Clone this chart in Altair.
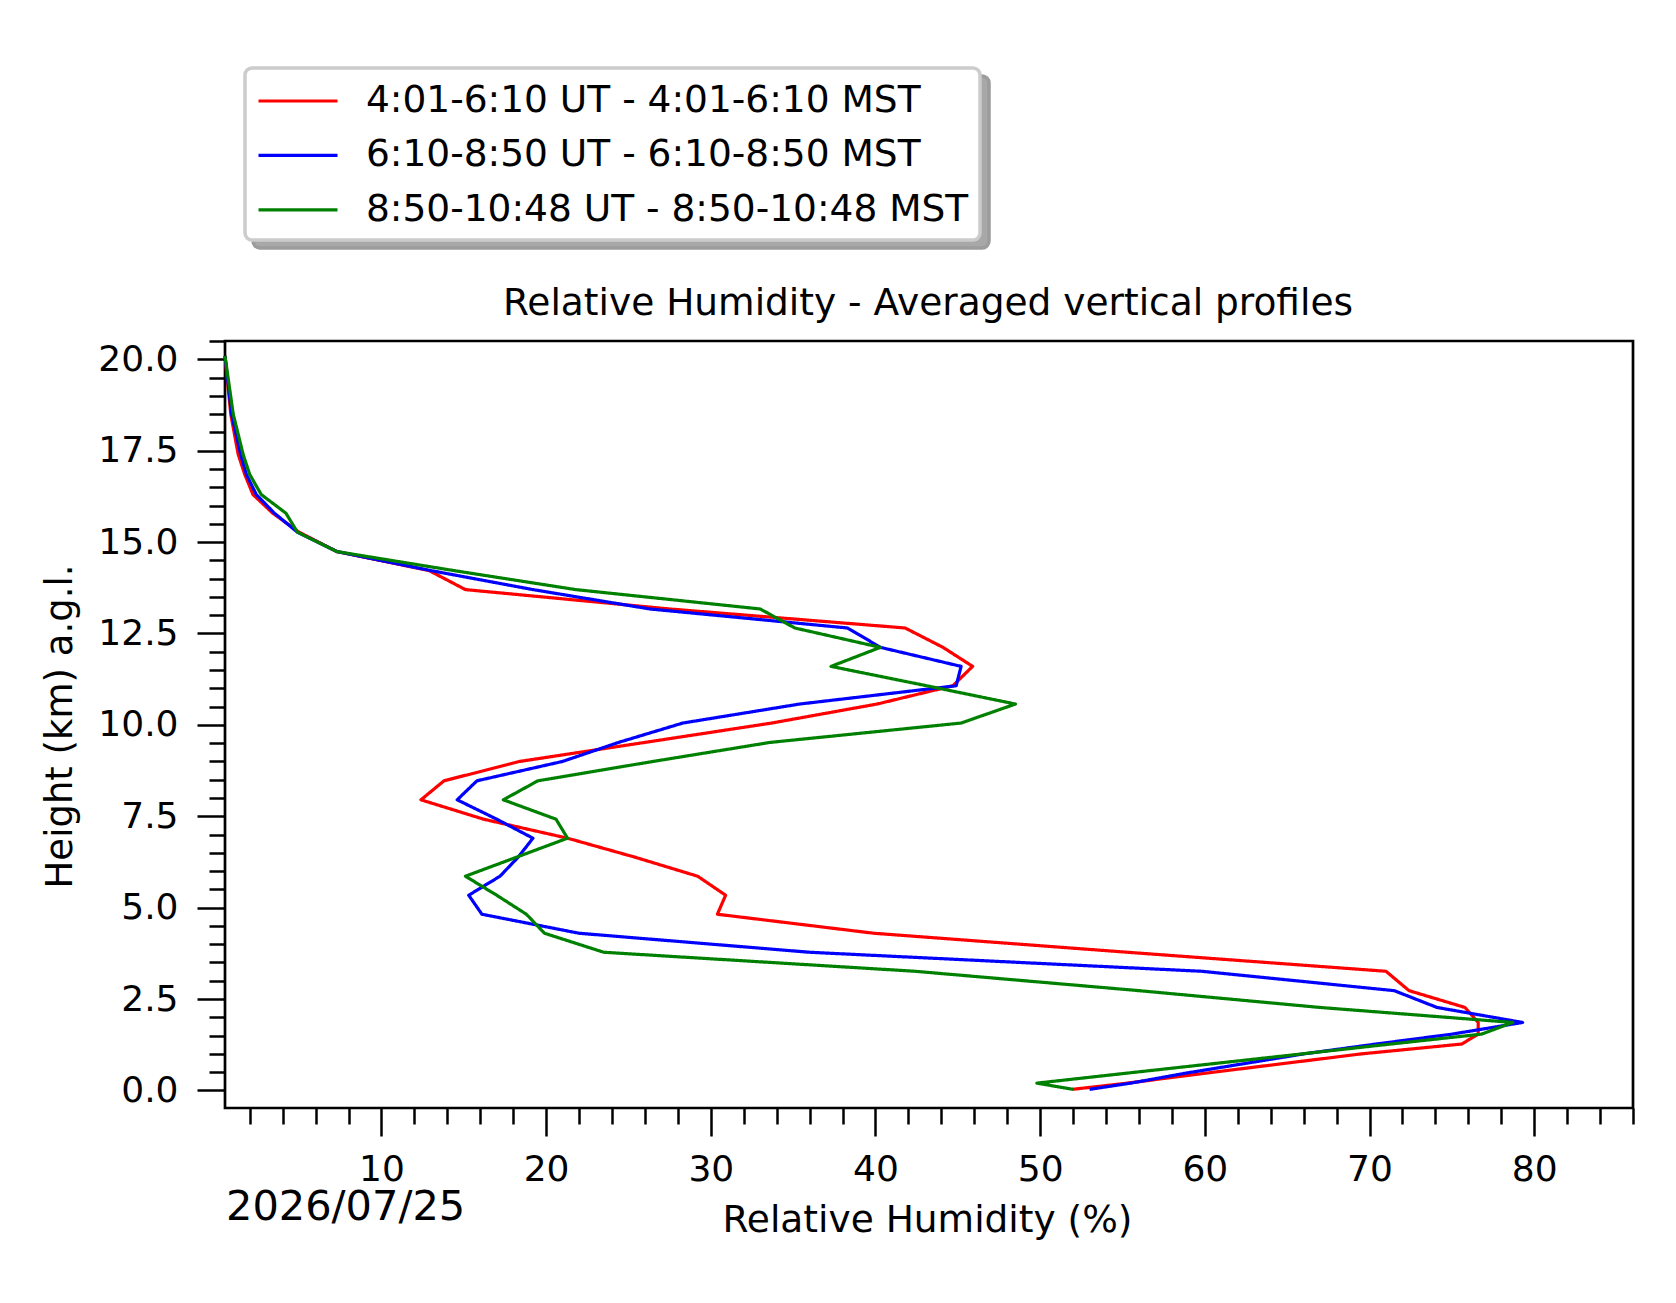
import altair as alt
import pandas as pd

# ---------------- data ----------------
heights = [0.03, 0.2, 0.47, 1.0, 1.27, 1.54, 1.86, 2.27, 2.73, 3.26,
           3.78, 4.3, 4.82, 5.34, 5.86, 6.38, 6.9, 7.42, 7.95, 8.47,
           9.0, 9.52, 10.05, 10.57, 11.07, 11.6, 12.12, 12.65, 13.17, 13.7,
           14.22, 14.74, 15.27, 15.79, 16.3, 16.85, 17.4, 18.5, 20.09]

rh_red = [51.95, 55.3, 60.0, 69.5, 75.6, 76.6, 76.6, 75.8, 72.4, 71.0,
          55.3, 39.9, 30.4, 30.9, 29.2, 25.4, 21.3, 16.2, 12.4, 13.8,
          18.4, 26.0, 33.7, 40.1, 44.7, 45.9, 44.1, 41.8, 27.5, 15.1,
          12.9, 7.3, 5.0, 3.4, 2.2, 1.7, 1.3, 0.85, 0.5]

rh_blue = [53.0, 55.5, 58.8, 66.0, 70.4, 75.0, 79.3, 74.1, 71.5, 59.8,
           36.0, 22.0, 16.1, 15.3, 17.2, 18.3, 19.2, 17.0, 14.6, 15.8,
           21.0, 24.4, 28.3, 35.4, 44.9, 45.2, 40.3, 38.3, 26.3, 19.2,
           13.0, 7.3, 4.9, 3.5, 2.4, 1.8, 1.45, 0.9, 0.5]

rh_green = [52.0, 49.8, 55.2, 65.9, 71.3, 76.8, 78.7, 67.0, 56.0, 42.4,
            23.5, 19.9, 18.8, 17.0, 15.1, 18.2, 21.3, 20.6, 17.4, 19.5,
            26.5, 33.6, 45.2, 48.5, 43.1, 37.3, 40.3, 35.1, 33.0, 21.8,
            14.4, 7.3, 4.9, 4.2, 2.7, 2.0, 1.6, 1.0, 0.5]

series_labels = ["4:01-6:10 UT - 4:01-6:10 MST",
                 "6:10-8:50 UT - 6:10-8:50 MST",
                 "8:50-10:48 UT - 8:50-10:48 MST"]
series_colors = ["#ff0000", "#0000ff", "#008000"]

x_tick_values = [2, 4, 6, 8, 10, 12, 14, 16, 18, 20, 22, 24, 26, 28, 30,
                 32, 34, 36, 38, 40, 42, 44, 46, 48, 50, 52, 54, 56, 58,
                 60, 62, 64, 66, 68, 70, 72, 74, 76, 78, 80, 82, 84, 86]
y_tick_values = [0.0, 0.5, 1.0, 1.5, 2.0, 2.5, 3.0, 3.5, 4.0, 4.5, 5.0,
                 5.5, 6.0, 6.5, 7.0, 7.5, 8.0, 8.5, 9.0, 9.5, 10.0, 10.5,
                 11.0, 11.5, 12.0, 12.5, 13.0, 13.5, 14.0, 14.5, 15.0,
                 15.5, 16.0, 16.5, 17.0, 17.5, 18.0, 18.5, 19.0, 19.5,
                 20.0, 20.5]

date_label = ["2026/07/25"]
title_label = ["Relative Humidity - Averaged vertical profiles"]
x_title = "Relative Humidity (%)"
y_title = "Height (km) a.g.l."

# ---------------- table ----------------
rows = []
for label, values in zip(series_labels, [rh_red, rh_blue, rh_green]):
    for i, (h, v) in enumerate(zip(heights, values)):
        rows.append({"series": label, "shadow": label, "idx": i,
                     "height": h, "rh": v})
df = pd.DataFrame(rows)
date_df = pd.DataFrame({"date": date_label})
title_df = pd.DataFrame({"title": title_label})

FONT = "DejaVu Sans"
PLOT_W, PLOT_H = 1408, 767

x_axis = alt.Axis(
    values=x_tick_values,
    tickSize={"condition": {"test": "datum.value % 10 !== 0", "value": 16}, "value": 28},
    labelExpr="datum.value % 10 === 0 ? datum.label : ''",
    labelPadding=16, labelFlush=False, labelOverlap=False,
    labelFont=FONT, labelFontSize=36, labelColor="black",
    grid=False, domain=False, tickColor="black", tickWidth=2.5,
    title=x_title, titleFont=FONT, titleFontSize=37.5, titleFontWeight="normal",
    titleColor="black", titleX=702, titleY=123.5,
    titleBaseline="alphabetic", titleAlign="center",
)
y_axis = alt.Axis(
    values=y_tick_values,
    tickSize={"condition": {"test": "datum.value % 2.5 !== 0", "value": 16}, "value": 28},
    labelExpr="datum.value % 2.5 === 0 ? format(datum.value, '.1f') : ''",
    labelPadding=19, labelFlush=False, labelOverlap=False,
    labelFont=FONT, labelFontSize=36, labelColor="black",
    grid=False, domain=False, tickColor="black", tickWidth=2.5,
    title=y_title, titleFont=FONT, titleFontSize=37, titleFontWeight="normal",
    titleColor="black", titleX=-154, titleY=385,
    titleBaseline="alphabetic", titleAlign="center", titleAngle=270,
)

legend_common = dict(
    orient="none", title=None, labelFontSize=37.5, labelFont=FONT,
    labelLimit=0, padding=11, rowPadding=13.4,
    symbolType="M-1.975,0L1.975,0", symbolSize=1600, symbolStrokeWidth=3.2,
    symbolOffset=20, cornerRadius=7,
)
main_legend = alt.Legend(
    legendX=20, legendY=-273, fillColor="white", strokeColor="#cccccc",
    labelColor="black", labelOffset=46, zindex=1, **legend_common,
)
# drop shadow of the legend box (same size, no visible content)
shadow_legend = alt.Legend(
    legendX=28, legendY=-265, fillColor="#a8a8a8", strokeColor="#9c9c9c",
    labelExpr="''", labelOffset=650, symbolOpacity=0, zindex=0,
    **legend_common,
)

lines = alt.Chart(df).mark_line(strokeWidth=3.2, strokeJoin="round").encode(
    x=alt.X("rh:Q", scale=alt.Scale(domain=[0.5, 86], nice=False, zero=False), axis=x_axis),
    y=alt.Y("height:Q", scale=alt.Scale(domain=[-0.48, 20.5], nice=False, zero=False), axis=y_axis),
    color=alt.Color("series:N", scale=alt.Scale(domain=series_labels, range=series_colors),
                    legend=main_legend),
    strokeDash=alt.StrokeDash("shadow:N",
                              scale=alt.Scale(domain=series_labels[::-1],
                                              range=[[1, 0], [1, 0], [1, 0]]),
                              legend=shadow_legend),
    order=alt.Order("idx:Q"),
)

date_text = alt.Chart(date_df).mark_text(
    align="left", baseline="alphabetic", fontSize=41.5, font=FONT, color="black"
).encode(x=alt.value(1), y=alt.value(879), text="date:N")

title_text = alt.Chart(title_df).mark_text(
    align="center", baseline="alphabetic", fontSize=37.5, font=FONT, color="black"
).encode(x=alt.value(703), y=alt.value(-26), text="title:N")

chart = alt.layer(lines, date_text, title_text).properties(
    width=PLOT_W, height=PLOT_H,
    background="white",
    autosize=alt.AutoSizeParams(type="none"),
    padding={"left": 217, "top": 333, "right": 35, "bottom": 187},
).configure_view(
    stroke="black", strokeWidth=2.7
).configure_legend(
    strokeWidth=3.5
)

chart.save("out.html", embed_options={"renderer": "svg", "actions": False})
